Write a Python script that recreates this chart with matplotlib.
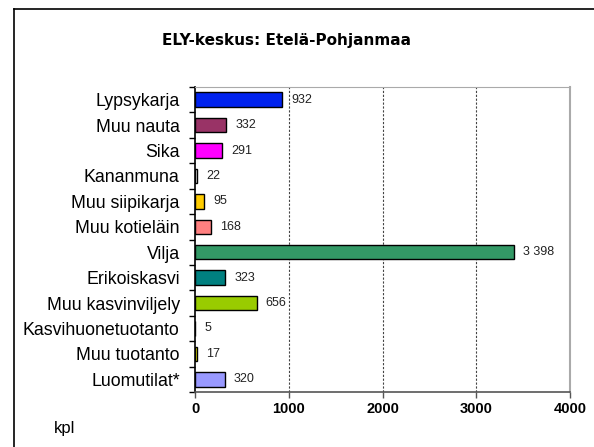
import matplotlib
matplotlib.use("Agg")
import matplotlib.pyplot as plt

categories = ["Lypsykarja", "Muu nauta", "Sika", "Kananmuna", "Muu siipikarja",
              "Muu kotieläin", "Vilja", "Erikoiskasvi", "Muu kasvinviljely",
              "Kasvihuonetuotanto", "Muu tuotanto", "Luomutilat*"]
values = [932, 332, 291, 22, 95, 168, 3398, 323, 656, 5, 17, 320]
value_labels = ["932", "332", "291", "22", "95", "168", "3 398", "323", "656", "5", "17", "320"]
colors = ["#0022EE", "#993366", "#FF00FF", "#FFFFFF", "#FFCC00", "#FF8080",
          "#339966", "#008080", "#99CC00", "#FFFFFF", "#FFFF00", "#9999FF"]
xticks = [0, 1000, 2000, 3000, 4000]
title = "ELY-keskus: Etelä-Pohjanmaa"
unit = "kpl"

W, H = 594, 447
fig = plt.figure(figsize=(W / 100, H / 100), dpi=100)
fig.patch.set_facecolor("white")

# figure border (top and left visible)
fig.add_artist(plt.Line2D([14 / W, 1.0], [1 - 9 / H, 1 - 9 / H], color="black", lw=1.2))
fig.add_artist(plt.Line2D([14 / W, 14 / W], [1 - 9 / H, 0], color="black", lw=1.2))

left, right, top, bottom = 195, 570, 87, 392
ax = fig.add_axes([left / W, 1 - bottom / H, (right - left) / W, (bottom - top) / H])

y = list(range(len(categories)))
ax.barh(y, values, height=0.57, color=colors, edgecolor="black", linewidth=1.0, zorder=3)
ax.set_ylim(len(categories) - 0.5, -0.5)
ax.set_xlim(0, 4000)

for yi, v, lab in zip(y, values, value_labels):
    ax.annotate(lab, (v, yi), xytext=(6.5, 0), textcoords="offset points",
                va="center", ha="left", fontsize=9, family="Liberation Sans", color="#222222")

ax.set_xticks(xticks)
ax.set_xticklabels([str(t) for t in xticks], fontsize=10.5, fontweight="bold", family="Liberation Sans")
ax.set_yticks(y)
ax.set_yticklabels(categories, fontsize=12.8, family="Liberation Sans")
ax.set_yticks([i - 0.5 for i in range(len(categories) + 1)], minor=True)
ax.tick_params(axis="y", which="major", length=0, pad=11)
ax.tick_params(axis="y", which="minor", length=4, width=1, color="black")
ax.tick_params(axis="x", which="major", length=4, width=1, color="#555555", pad=3)

for t in xticks[1:-1]:
    ax.axvline(t, color="#444444", lw=0.8, ls=(0, (2, 1.5)), zorder=1)

ax.spines["left"].set_color("black")
ax.spines["left"].set_linewidth(1.2)
ax.spines["bottom"].set_color("#555555")
ax.spines["bottom"].set_linewidth(1.2)
ax.spines["top"].set_color("#AAAAAA")
ax.spines["right"].set_color("#AAAAAA")
ax.spines["right"].set_linewidth(1.5)

fig.text(287 / W, 1 - 41 / H, title, ha="center", va="center", fontsize=11,
         fontweight="bold", family="DejaVu Sans")
fig.text(54 / W, 1 - 428 / H, unit, ha="left", va="center", fontsize=12, family="Liberation Sans")

fig.savefig("out.png", dpi=100)
